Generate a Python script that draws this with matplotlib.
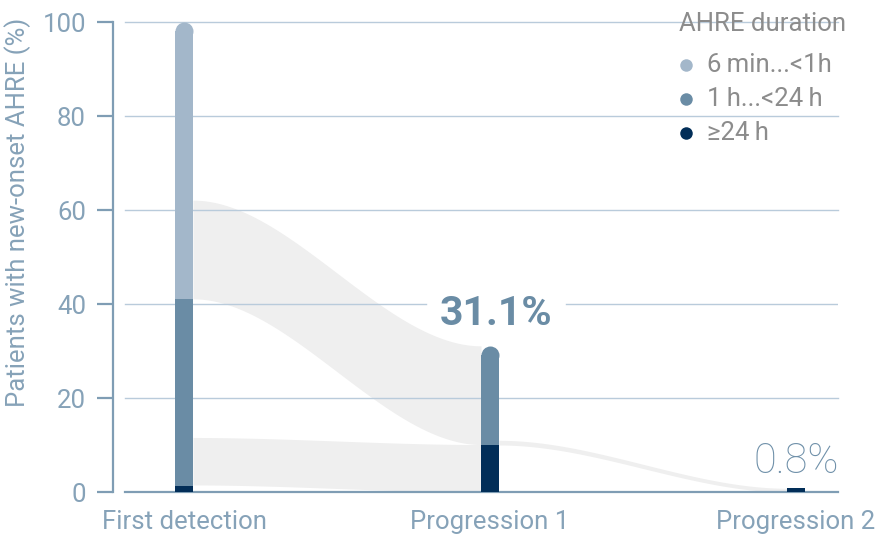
"""
AHRE progression chart: stacked rounded bars with sankey-like grey ribbons.
"""

import numpy as np
import matplotlib.pyplot as plt

# ── Data ─────────────────────────────────────────────────────────────────────
categories = ['First detection', 'Progression 1', 'Progression 2']
dur_labels = ['6\u2009min...<1h', '1\u2009h...<24\u2009h', '\u226524\u2009h']

# stacked segments per category, bottom to top
seg_24h = [1.3, 10.1, 0.8]       # >=24 h
seg_1h = [39.8, 21.0, 0.0]       # 1 h...<24 h
seg_6min = [58.9, 0.0, 0.0]      # 6 min...<1 h

# grey flows between bars
flow_src = [0, 0, 1]
flow_dst = [1, 1, 2]
flow_src_lo = [41.1, 1.5, 10.0]
flow_src_hi = [62.1, 11.6, 11.0]
flow_dst_lo = [10.1, 0.0, 0.0]
flow_dst_hi = [31.1, 10.1, 0.8]

big_label = '31.1%'
small_label = '0.8%'

# ── Style ────────────────────────────────────────────────────────────────────
plt.rcParams['font.family'] = ['Roboto', 'DejaVu Sans']

c_light = '#a3b7ca'
c_mid = '#6a8ca5'
c_dark = '#022e58'
c_grid = '#b9cbdb'
c_axis = '#7f9db4'
c_tick = '#86a2b8'
c_flow = '#efefef'
c_legend = '#8c8c8c'
seg_colors = [c_dark, c_mid, c_light]
fs = 18.5

W, H, DPI = 880, 537, 100
fig = plt.figure(figsize=(W / DPI, H / DPI), dpi=DPI)
ax_l, ax_r, ax_t, ax_b = 113, 838, 22, 492
ax = fig.add_axes([ax_l / W, (H - ax_b) / H, (ax_r - ax_l) / W, (ax_b - ax_t) / H])

xpos = np.arange(len(categories))
x0_px, dx_px = 184, 306
ax.set_xlim((ax_l - x0_px) / dx_px, (ax_r - x0_px) / dx_px)
ax.set_ylim(0, 100)

bar_px = 18
bar_w = bar_px / dx_px
px_per_unit = (ax_b - ax_t) / 100
r_data = (bar_px / 2) / px_per_unit

# ── Flows ────────────────────────────────────────────────────────────────────
for s, d, slo, shi, dlo, dhi in zip(flow_src, flow_dst, flow_src_lo, flow_src_hi,
                                    flow_dst_lo, flow_dst_hi):
    xa = xpos[s] + bar_w / 2
    xb = xpos[d] - bar_w / 2
    xs = np.linspace(xa, xb, 200)
    t = (xs - xa) / (xb - xa)
    k = 3 * t**2 - 2 * t**3
    lo = slo + (dlo - slo) * k
    hi = shi + (dhi - shi) * k
    ax.fill_between(xs, lo, hi, color=c_flow, lw=0, zorder=1)

# ── Bars ─────────────────────────────────────────────────────────────────────
segments = [seg_24h, seg_1h, seg_6min]
for i in range(len(categories)):
    bottom = 0
    vals = [seg[i] for seg in segments]
    top_idx = max(j for j, v in enumerate(vals) if v > 0)
    for j, v in enumerate(vals):
        if v <= 0:
            continue
        h = v
        if j == top_idx and bottom + v > 5:
            h = v - r_data
            ax.plot(xpos[i], bottom + h, 'o', ms=bar_px * 72 / DPI,
                    color=seg_colors[j], mew=0, zorder=3)
        ax.bar(xpos[i], h, bottom=bottom, width=bar_w, color=seg_colors[j],
               lw=0, zorder=3)
        bottom += v

# ── Value labels ─────────────────────────────────────────────────────────────
tot = [a + b + c for a, b, c in zip(seg_24h, seg_1h, seg_6min)]
big = ax.text(xpos[1] + 0.02, tot[1] + 6.8, big_label, ha='center', va='center',
              fontsize=29.5, fontweight='bold', color=c_mid, zorder=4)
ax.text(xpos[2] + 0.0, tot[2] + 5.7, small_label, ha='center', va='center',
        fontsize=30, fontweight='light', color='#6f90a9', zorder=4)

# ── Grid (gap around the big label) ──────────────────────────────────────────
fig.canvas.draw()
bb = big.get_window_extent().transformed(ax.transData.inverted())
gap = 0.045
gx0 = ax.get_xlim()[0] + (125 - ax_l) / dx_px
gx1 = ax.get_xlim()[1]
for yv in [20, 40, 60, 80, 100]:
    if bb.y0 <= yv <= bb.y1:
        ax.plot([gx0, bb.x0 - gap], [yv, yv], color=c_grid, lw=1, zorder=2)
        ax.plot([bb.x1 + gap, gx1], [yv, yv], color=c_grid, lw=1, zorder=2)
    else:
        ax.plot([gx0, gx1], [yv, yv], color=c_grid, lw=1, zorder=2,
                clip_on=False)
ax.plot([gx0, gx1], [0, 0], color=c_axis, lw=1.6, zorder=2, clip_on=False)

# ── Axes ─────────────────────────────────────────────────────────────────────
for sp in ['top', 'right', 'bottom']:
    ax.spines[sp].set_visible(False)
ax.spines['left'].set_color(c_axis)
ax.spines['left'].set_linewidth(1.6)
ax.set_yticks([0, 20, 40, 60, 80, 100])
ax.tick_params(axis='y', length=16 * 72 / DPI, width=1.6, color=c_axis,
               labelcolor=c_tick, labelsize=fs, pad=8)
ax.set_xticks(xpos)
ax.set_xticklabels(categories)
ax.tick_params(axis='x', length=0, labelcolor=c_tick, labelsize=fs, pad=13)

fig.text(18 / W, 1 - 212 / H, 'Patients with new-onset AHRE (%)', rotation=90,
         ha='center', va='center', fontsize=fs, color=c_tick)

# ── Legend ───────────────────────────────────────────────────────────────────
fig.text(679 / W, 1 - 24 / H, 'AHRE duration', ha='left', va='center',
         fontsize=fs, color=c_legend)
leg_y = [65, 99, 133]
for yy, lab, col in zip(leg_y, dur_labels, [c_light, c_mid, c_dark]):
    fig.add_artist(plt.Line2D([686 / W], [1 - yy / H], marker='o', ms=9,
                              color=col, mew=0, transform=fig.transFigure))
    fig.text(707 / W, 1 - yy / H, lab, ha='left', va='center', fontsize=fs,
             color=c_legend)

plt.savefig('out.png', dpi=DPI)
